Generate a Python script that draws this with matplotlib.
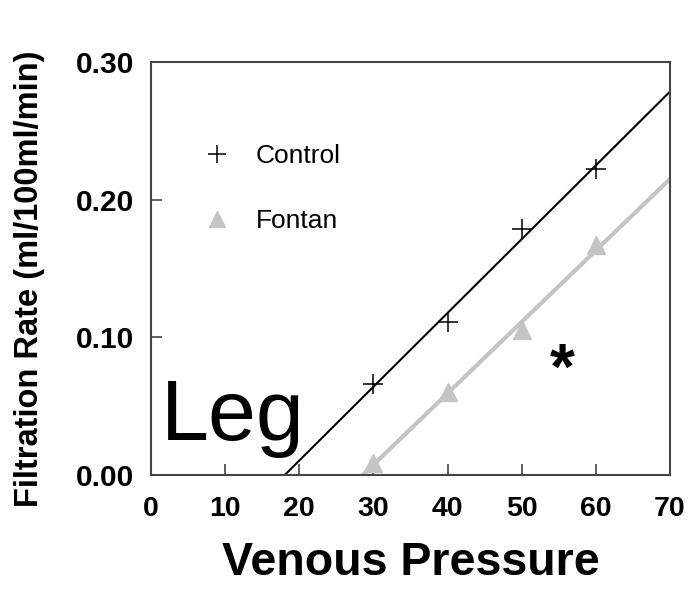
import numpy as np
import matplotlib
matplotlib.use("Agg")
import matplotlib.pyplot as plt

plt.rcParams['font.family'] = ['Liberation Sans', 'DejaVu Sans']

# venous pressure steps and filtration rates for both groups
pressure = [30, 40, 50, 60]
control = [0.066, 0.111, 0.179, 0.222]
fontan = [0.009, 0.060, 0.105, 0.167]

x_ticks = [0, 10, 20, 30, 40, 50, 60, 70]
y_ticks = [0.00, 0.10, 0.20, 0.30]

fig = plt.figure(figsize=(6.9, 5.92), dpi=100)
ax = fig.add_axes([0.2188, 0.1976, 0.7522, 0.6977])

# regression lines over the visible range
xs = np.linspace(0, 70, 200)
k_c, b_c = np.polyfit(pressure, control, 1)
k_f, b_f = np.polyfit(pressure, fontan, 1)
ax.plot(xs, k_c * xs + b_c, color='black', lw=1.5, zorder=2)
ax.plot(xs, k_f * xs + b_f, color='#c4c4c4', lw=3, zorder=2)

ax.plot(pressure, control, linestyle='none', marker='+', ms=15, mew=1.1,
        color='black', label='Control', zorder=3)
ax.plot(pressure, fontan, linestyle='none', marker='^', ms=13,
        color='#c4c4c4', label='Fontan', zorder=3)

ax.set_xlim(0, 70)
ax.set_ylim(0, 0.30)
ax.set_xticks(x_ticks)
ax.set_yticks(y_ticks)
ax.set_yticklabels([f"{v:.2f}" for v in y_ticks])
ax.tick_params(direction='in', length=8, width=1.2, color='#444444',
               labelsize=20.5)
ax.tick_params(axis='x', pad=15)
ax.tick_params(axis='y', pad=12, labelsize=21.5)
for lbl in ax.get_xticklabels() + ax.get_yticklabels():
    lbl.set_fontweight('bold')
for s in ax.spines.values():
    s.set_color('#444444')
    s.set_linewidth(1.5)

ax.set_xlabel('Venous Pressure', fontsize=33.5, fontweight='bold')
ax.set_ylabel('Filtration Rate (ml/100ml/min)', fontsize=23.5,
              fontweight='bold')
ax.xaxis.set_label_coords(0.5, -0.16)
ax.yaxis.set_label_coords(-0.204, 0.475)

leg = ax.legend(loc='upper left', bbox_to_anchor=(0.056, 0.858),
                frameon=False, fontsize=19, handletextpad=0.98,
                labelspacing=1.55, handlelength=1)
leg.legend_handles[0].set_markersize(13)
leg.legend_handles[1].set_markersize(11)

ax.text(0.02, 0.085, 'Leg', transform=ax.transAxes, fontsize=62,
        ha='left', va='baseline')
ax.text(55.5, 0.075, '*', fontsize=46, fontweight='bold', ha='center',
        va='center')

fig.savefig('out.png', dpi=100)
